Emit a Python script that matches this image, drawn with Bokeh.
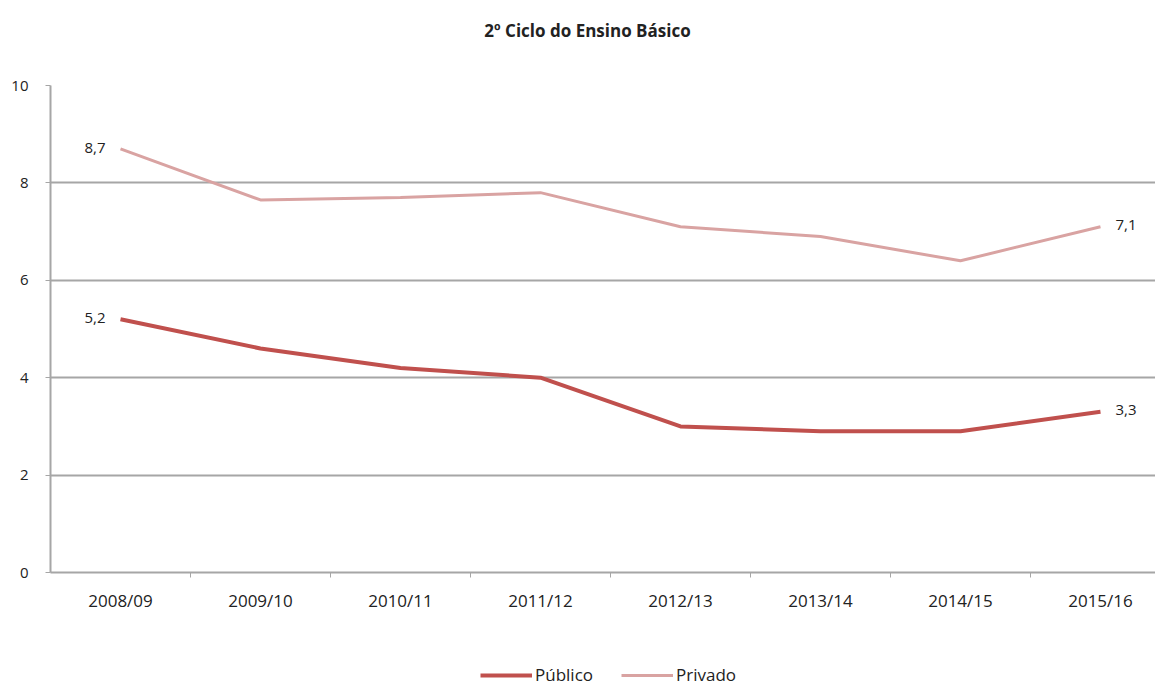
from bokeh.plotting import figure
from bokeh.layouts import column
from bokeh.models import (FixedTicker, Range1d, Legend, LegendItem, ColumnDataSource, LabelSet)
from bokeh.embed import file_html
from bokeh.resources import INLINE
from bokeh.core.properties import value

title_text = "2º Ciclo do Ensino Básico"
categories = ["2008/09", "2009/10", "2010/11", "2011/12", "2012/13", "2013/14", "2014/15", "2015/16"]
publico = [5.2, 4.6, 4.2, 4.0, 3.0, 2.9, 2.9, 3.3]
privado = [8.7, 7.65, 7.7, 7.8, 7.1, 6.9, 6.4, 7.1]
y_ticks = [0, 2, 4, 6, 8, 10]

FONT = "Open Sans"
TXT = "#222222"
GRID = "#a6a6a6"
C_PUB = "#c0504d"
C_PRI = "#d9a3a2"

xs = [i + 0.5 for i in range(len(categories))]

def bare(h):
    f = figure(width=1155, height=h, output_backend="svg", toolbar_location=None,
               x_range=Range1d(0, 1), y_range=Range1d(0, 1),
               min_border_left=0, min_border_right=0, min_border_top=0, min_border_bottom=0)
    f.axis.visible = False
    f.grid.visible = False
    f.outline_line_color = None
    return f

# ---- title strip
pt = bare(60)
pt.text(x=[0.486], y=[0.5], text=[title_text], text_align="center", text_baseline="middle",
        text_font=value(FONT), text_font_size="17px", text_font_style="bold", text_color=TXT)

# ---- main chart
p = figure(width=1155, height=590, output_backend="svg", toolbar_location=None,
           x_range=Range1d(0, 7.893), y_range=Range1d(0, 10),
           min_border_left=50, min_border_right=0, min_border_top=25, min_border_bottom=78)
p.outline_line_color = None

p.xaxis.ticker = FixedTicker(ticks=xs, minor_ticks=list(range(1, 8)))
p.xaxis.major_label_overrides = {x: c for x, c in zip(xs, categories)}
p.xaxis.major_tick_out = 0
p.xaxis.major_tick_in = 0
p.xaxis.minor_tick_out = 5
p.xaxis.minor_tick_in = 0
p.xaxis.minor_tick_line_color = GRID
p.xaxis.axis_line_color = GRID
p.xaxis.axis_line_width = 2
p.xaxis.major_label_text_font = FONT
p.xaxis.major_label_text_font_size = "17px"
p.xaxis.major_label_text_color = TXT
p.xaxis.major_label_standoff = 11

p.yaxis.ticker = FixedTicker(ticks=y_ticks)
p.yaxis.minor_tick_line_color = None
p.yaxis.major_tick_out = 5
p.yaxis.major_tick_in = 0
p.yaxis.major_tick_line_color = GRID
p.yaxis.axis_line_color = GRID
p.yaxis.axis_line_width = 2
p.yaxis.major_label_text_font = FONT
p.yaxis.major_label_text_font_size = "15px"
p.yaxis.major_label_text_color = TXT
p.yaxis.major_label_standoff = 17

p.xgrid.grid_line_color = None
p.ygrid.ticker = FixedTicker(ticks=[2, 4, 6, 8, 10])
p.ygrid.grid_line_color = GRID
p.ygrid.grid_line_width = 2

p.line(xs, publico, line_color=C_PUB, line_width=4)
p.line(xs, privado, line_color=C_PRI, line_width=3)

def fmt(v):
    return f"{v:.1f}".replace(".", ",")

left_src = ColumnDataSource(dict(x=[xs[0], xs[0]], y=[privado[0], publico[0]],
                                 t=[fmt(privado[0]), fmt(publico[0])]))
right_src = ColumnDataSource(dict(x=[xs[-1], xs[-1]], y=[privado[-1], publico[-1]],
                                  t=[fmt(privado[-1]), fmt(publico[-1])]))
p.add_layout(LabelSet(x="x", y="y", text="t", source=left_src, x_offset=-15, y_offset=1,
                      text_align="right", text_baseline="middle", text_font=value(FONT),
                      text_font_size="15px", text_color=TXT))
p.add_layout(LabelSet(x="x", y="y", text="t", source=right_src, x_offset=15, y_offset=2,
                      text_align="left", text_baseline="middle", text_font=value(FONT),
                      text_font_size="15px", text_color=TXT))

# ---- legend strip
pl = bare(36)
pl.y_range = Range1d(100, 101)  # keep the proxy lines out of view
l_pub = pl.line(xs, publico, line_color=C_PUB, line_width=4)
l_pri = pl.line(xs, privado, line_color=C_PRI, line_width=3)
legend = Legend(items=[LegendItem(label="Público", renderers=[l_pub]),
                       LegendItem(label="Privado", renderers=[l_pri])],
                orientation="horizontal", location=(430, 0),
                label_text_font=FONT, label_text_font_size="17px", label_text_color=TXT,
                glyph_width=52, glyph_height=12, label_height=12, spacing=28, label_standoff=3,
                border_line_color=None, background_fill_alpha=0, margin=0, padding=0)
pl.add_layout(legend)

layout = column(pt, p, pl, spacing=0)
open("out.html", "w").write(file_html(layout, INLINE))
